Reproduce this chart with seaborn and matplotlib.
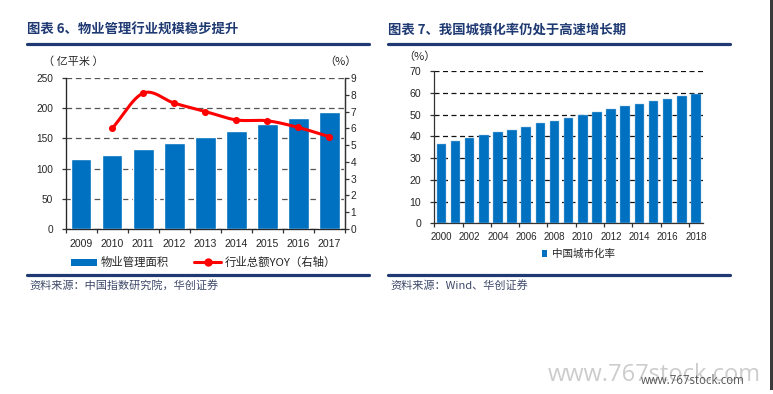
import numpy as np
import matplotlib
matplotlib.use('Agg')
import matplotlib.pyplot as plt
from matplotlib.patches import Patch, Rectangle
from matplotlib.lines import Line2D
import seaborn as sns

# left chart: property management area (100m m2) and industry revenue YOY (%)
years_l = ['2009', '2010', '2011', '2012', '2013', '2014', '2015', '2016', '2017']
area = [116, 123, 133, 143, 153, 163, 174, 184, 194]
yoy_years = ['2010', '2011', '2012', '2013', '2014', '2015', '2016', '2017']
yoy = [6.0, 8.1, 7.5, 7.0, 6.5, 6.45, 6.05, 5.5]

# right chart: China urbanization rate (%)
years_r = [str(y) for y in range(2000, 2019)]
urban = [36.22, 37.66, 39.09, 40.53, 41.76, 42.99, 44.34, 45.89, 46.99, 48.34,
         49.95, 51.27, 52.57, 53.73, 54.77, 56.10, 57.35, 58.52, 59.58]

BLUE = '#0070C0'
NAVY = '#1F3A73'
RED = '#FF0000'
SRC = '#3E4A6A'
CJK = ['Noto Sans CJK SC', 'DejaVu Sans']


def smooth(xs, ys, n=24):
    # catmull-rom curve through the points, like excel's smoothed line
    pts = np.column_stack([xs, ys]).astype(float)
    p = np.vstack([2 * pts[0] - pts[1], pts, 2 * pts[-1] - pts[-2]])
    t = np.linspace(0, 1, n, endpoint=False)[:, None]
    out = []
    for i in range(1, len(p) - 2):
        p0, p1, p2, p3 = p[i - 1], p[i], p[i + 1], p[i + 2]
        seg = 0.5 * (2 * p1 + (-p0 + p2) * t + (2 * p0 - 5 * p1 + 4 * p2 - p3) * t ** 2
                     + (-p0 + 3 * p1 - 3 * p2 + p3) * t ** 3)
        out.append(seg)
    out.append(pts[-1:])
    return np.vstack(out)


sns.set_style('white')
plt.rcParams['font.family'] = ['Liberation Sans', 'Noto Sans CJK SC', 'DejaVu Sans']
plt.rcParams['axes.unicode_minus'] = False

W, H = 773, 394
fig = plt.figure(figsize=(W / 100, H / 100), dpi=100)


def fx(px):
    return px / W


def fy(py):
    return 1 - py / H


# ---------- left chart ----------
ax = fig.add_axes([fx(65.7), fy(229), fx(345 - 65.7), (229 - 78) / H])
sns.barplot(x=years_l, y=area, color=BLUE, saturation=1, width=0.66, ax=ax, zorder=3)
ax.set_xlim(-0.5, 8.5)
ax.set_ylim(0, 250)
ax.set_yticks(range(0, 251, 50))
ax.set_xlabel('')
ax.set_ylabel('')
ax.grid(axis='y', color='#555555', linestyle=(0, (4.5, 3)), lw=0.9, zorder=0)
ax.grid(axis='x', visible=False)
ax.spines['top'].set_visible(False)
for s in ['left', 'bottom', 'right']:
    ax.spines[s].set_color('#333333')
    ax.spines[s].set_linewidth(0.9)
ax.tick_params(axis='y', left=True, length=2.6, width=0.9, color='#333333', pad=6.6, labelsize=7.3)
ax.tick_params(axis='x', length=0, pad=7.0, labelsize=7.6)
ax.set_xticks(np.arange(-0.5, 9, 1), minor=True)
ax.tick_params(axis='x', which='minor', bottom=True, length=3, width=0.9, color='#333333')

ax2 = ax.twinx()
xpos = [years_l.index(y) for y in yoy_years]
curve = smooth(xpos, yoy)
ax2.plot(curve[:, 0], curve[:, 1], color=RED, lw=2.2, solid_capstyle='round', zorder=4)
sns.scatterplot(x=xpos, y=yoy, color=RED, s=26, edgecolor=RED, linewidth=0, ax=ax2, zorder=5)
ax2.set_ylim(0, 9)
ax2.set_yticks(range(0, 10))
ax2.grid(False)
ax2.spines['top'].set_visible(False)
ax2.spines['right'].set_color('#333333')
ax2.spines['right'].set_linewidth(0.9)
ax2.tick_params(axis='y', right=True, length=2.6, width=0.9, color='#333333', pad=1.5, labelsize=7.3)
ax.set_xlim(-0.5, 8.5)

fig.text(fx(73), fy(62), '（ 亿平米 ）', family=CJK, fontsize=8, ha='center', va='center')
fig.text(fx(340), fy(62), '（%）', family=CJK, fontsize=8, ha='center', va='center')

fig.legend(handles=[Patch(facecolor=BLUE, edgecolor='none'),
                    Line2D([0], [0], color=RED, lw=2.2, marker='o', markersize=5)],
           labels=['物业管理面积', '行业总额YOY（右轴）'],
           loc='center left', bbox_to_anchor=(fx(71), fy(262.7)), ncol=2,
           frameon=False, prop={'family': CJK, 'size': 8.2},
           handlelength=2.3, handleheight=0.6, handletextpad=0.35,
           columnspacing=2.2, borderpad=0, borderaxespad=0)

# ---------- right chart ----------
axr = fig.add_axes([fx(434.3), fy(223.3), fx(703 - 434.3), (223.3 - 71) / H])
sns.barplot(x=years_r, y=urban, color=BLUE, saturation=1, width=0.68, ax=axr, zorder=3,
            edgecolor='#9cc3e6', linewidth=0.3)
axr.set_xlim(-0.5, 18.5)
axr.set_ylim(0, 70)
axr.set_yticks(range(0, 71, 10))
axr.set_xticks(range(0, 19, 2))
axr.set_xticklabels(years_r[::2])
axr.set_xlabel('')
axr.set_ylabel('')
axr.grid(axis='y', color='#111111', linestyle=(0, (4, 2.8)), lw=0.9, zorder=0)
axr.grid(axis='x', visible=False)
for s in ['top', 'right']:
    axr.spines[s].set_visible(False)
for s in ['left', 'bottom']:
    axr.spines[s].set_color('#333333')
    axr.spines[s].set_linewidth(0.9)
axr.tick_params(axis='y', left=True, length=3, width=0.9, color='#333333', pad=6.6, labelsize=7.6)
axr.tick_params(axis='x', length=0, pad=6.3, labelsize=7.0)
axr.set_xticks(np.arange(-0.5, 19, 2), minor=True)
axr.tick_params(axis='x', which='minor', bottom=True, length=3, width=0.9, color='#333333')

fig.text(fx(419), fy(57), '（%）', family=CJK, fontsize=8, ha='center', va='center')

fig.legend(handles=[Patch(facecolor=BLUE, edgecolor='none')], labels=['中国城市化率'],
           loc='center left', bbox_to_anchor=(fx(541.5), fy(254)), frameon=False,
           prop={'family': CJK, 'size': 7.6}, handlelength=0.55, handleheight=0.55,
           handletextpad=0.4, borderpad=0, borderaxespad=0)

# ---------- titles, rules and sources ----------
fig.text(fx(27), fy(30), '图表 6、物业管理行业规模稳步提升', family=CJK, fontsize=9.6,
         fontweight='bold', color=NAVY, va='center')
fig.text(fx(388), fy(30), '图表 7、我国城镇化率仍处于高速增长期', family=CJK, fontsize=9.6,
         fontweight='bold', color=NAVY, va='center')
for x0, x1 in [(27, 369), (388, 730)]:
    for yy in [44.3, 274.7]:
        fig.add_artist(Line2D([fx(x0), fx(x1)], [fy(yy), fy(yy)], color=NAVY, lw=2.3))
fig.text(fx(29), fy(285), '资料来源：中国指数研究院，华创证券', family=CJK, fontsize=8,
         style='italic', color=SRC, va='center')
fig.text(fx(390), fy(285), '资料来源：Wind、华创证券', family=CJK, fontsize=8,
         style='italic', color=SRC, va='center')

# page edge and watermark (the two marks overlap in the source too)
fig.add_artist(Rectangle((fx(770), fy(390)), fx(3), (390) / H, transform=fig.transFigure,
                         facecolor='#3a3a3a', edgecolor='none'))
fig.text(fx(548), fy(375), 'www.767stock.com', family=['Open Sans', 'DejaVu Sans'],
         fontsize=17, color='#cccccc', va='center')
fig.text(fx(641), fy(380), 'www.767stock.com', family=['Open Sans', 'DejaVu Sans'],
         fontsize=8.3, color='#555555', va='center')

fig.savefig('out.png', dpi=100, facecolor='white')
